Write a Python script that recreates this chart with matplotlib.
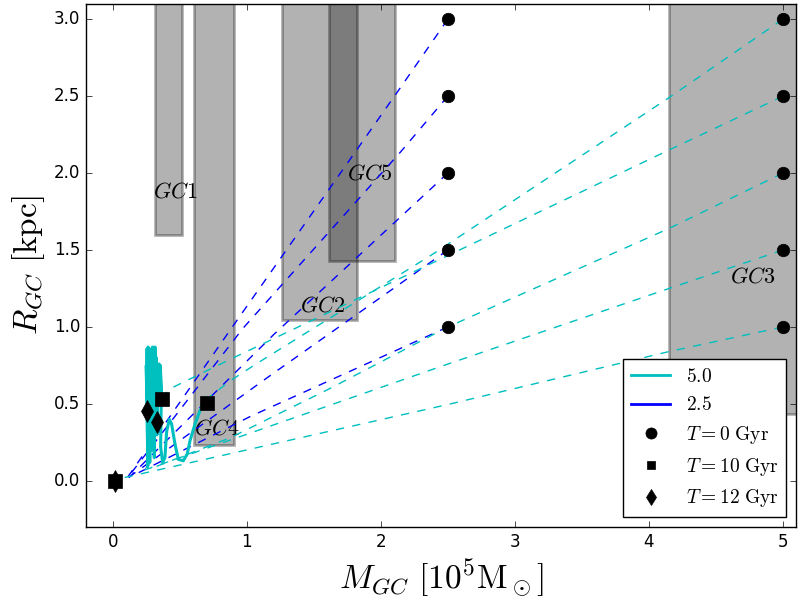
import numpy as np
import matplotlib
matplotlib.use("Agg")
from matplotlib import pyplot as plt
from matplotlib.patches import Rectangle
from matplotlib.lines import Line2D

plt.style.use("classic")
plt.rcParams["mathtext.fontset"] = "cm"

# initial galactocentric radii (kpc) of the runs, T = 0
r_init = [1.0, 1.5, 2.0, 2.5, 3.0]
m_init_low = 2.5
m_init_high = 5.0

# dashed tracks, M0 = 2.5 (blue): mass, radius
tracks_25_m = [
    [2.5, 1.03, 0.14],
    [2.5, 1.20, 0.13],
    [2.5, 1.20, 0.12],
    [2.5, 2.15, 0.97, 0.11],
    [2.5, 2.15, 0.90, 0.10],
]
tracks_25_r = [
    [1.0, 0.42, 0.03],
    [1.5, 0.70, 0.03],
    [2.0, 0.95, 0.02],
    [2.5, 2.14, 0.99, 0.02],
    [3.0, 2.56, 1.01, 0.01],
]

# dashed tracks, M0 = 5.0 (cyan)
tracks_50_m = [
    [5.0, 4.15, 2.52, 0.08],
    [5.0, 4.15, 2.47, 0.22],
    [5.0, 4.15, 2.5, 1.62, 0.876, 0.30],
    [5.0, 4.15, 2.37, 1.07, 0.876, 0.43, 0.37],
    [5.0, 4.15, 2.4, 1.07, 0.876, 0.70],
]
tracks_50_r = [
    [1.0, 0.84, 0.50, 0.02],
    [1.5, 1.25, 0.75, 0.065],
    [2.0, 1.64, 1.0, 0.60, 0.28, 0.085],
    [2.5, 2.15, 1.41, 0.87, 0.79, 0.60, 0.55],
    [3.0, 2.49, 1.48, 0.76, 0.65, 0.53],
]

# solid track after T = 10 Gyr (M0 = 5.0, R0 = 3.0)
late_m = [0.70, 0.65, 0.614, 0.576, 0.556, 0.526, 0.489, 0.464, 0.439, 0.422,
          0.402, 0.389, 0.372, 0.357, 0.362, 0.355, 0.360, 0.350, 0.356, 0.346,
          0.340, 0.335, 0.330, 0.325, 0.320, 0.315, 0.310, 0.305, 0.300, 0.296,
          0.292, 0.288, 0.284, 0.280, 0.276, 0.272, 0.268, 0.264, 0.260, 0.256,
          0.253, 0.250, 0.262, 0.258]
late_r = [0.54, 0.455, 0.37, 0.26, 0.175, 0.13, 0.14, 0.24, 0.37, 0.40,
          0.32, 0.15, 0.12, 0.22, 0.55, 0.75, 0.56, 0.74, 0.55, 0.76,
          0.56, 0.75, 0.30, 0.80, 0.55, 0.87, 0.15, 0.86, 0.55, 0.87,
          0.20, 0.70, 0.55, 0.78, 0.12, 0.86, 0.55, 0.87, 0.10, 0.86,
          0.55, 0.75, 0.10, 0.09]

# markers
t10_m = [0.015, 0.364, 0.70]
t10_r = [0.0, 0.53, 0.505]
t12_m = [0.015, 0.257, 0.33]
t12_r = [0.0, 0.455, 0.385]

# observed GCs: mass range, lower radius
gc_names = ["GC1", "GC2", "GC3", "GC4", "GC5"]
gc_m_lo = [0.314, 1.263, 4.149, 0.606, 1.614]
gc_m_hi = [0.52, 1.824, 5.6, 0.908, 2.103]
gc_r_lo = [1.60, 1.047, 0.436, 0.234, 1.427]
gc_label_m = [0.465, 1.57, 4.775, 0.776, 1.92]
gc_label_r = [1.88, 1.14, 1.33, 0.34, 2.0]

fig = plt.figure(figsize=(8, 6), dpi=100, facecolor="w")
ax = fig.add_axes([0.1075, 0.1217, 0.8875, 0.8716])

for lo, hi, rl in zip(gc_m_lo, gc_m_hi, gc_r_lo):
    ax.add_patch(Rectangle((lo, rl), hi - lo, 10.0, facecolor="k",
                           edgecolor="k", alpha=0.3, lw=2, zorder=1))
for name, xm, yr in zip(gc_names, gc_label_m, gc_label_r):
    ax.text(xm, yr, "$%s$" % name, fontsize=16, ha="center", va="center", zorder=2)

for m, r in zip(tracks_25_m, tracks_25_r):
    ax.plot(m, r, "b--", lw=1, zorder=3)
for m, r in zip(tracks_50_m, tracks_50_r):
    ax.plot(m, r, "c--", lw=1, zorder=3)
ax.plot(late_m, late_r, "c-", lw=2.2, zorder=4)

ax.plot([m_init_low] * len(r_init), r_init, "ko", ms=9, zorder=5)
ax.plot([m_init_high] * len(r_init), r_init, "ko", ms=9, zorder=5)
ax.plot(t12_m, t12_r, "kd", ms=11, zorder=5)
ax.plot(t10_m, t10_r, "ks", ms=10, zorder=6)

ax.set_xlim(-0.2, 5.1)
ax.set_ylim(-0.3, 3.1)
ax.set_xticks([0, 1, 2, 3, 4, 5])
ax.set_yticks(np.arange(0, 3.01, 0.5))
ax.set_xlabel(r"$M_{GC}\ [10^5\mathrm{M}_\odot]$", fontsize=24)
ax.set_ylabel(r"$R_{GC}\ [\mathrm{kpc}]$", fontsize=24)

handles = [
    Line2D([], [], color="c", lw=2),
    Line2D([], [], color="b", lw=2),
    Line2D([], [], color="k", marker="o", ls="none", ms=8),
    Line2D([], [], color="k", marker="s", ls="none", ms=6),
    Line2D([], [], color="k", marker="d", ls="none", ms=8),
]
labels = [r"$5.0$", r"$2.5$", r"$T=0\ \mathrm{Gyr}$",
          r"$T=10\ \mathrm{Gyr}$", r"$T=12\ \mathrm{Gyr}$"]
ax.legend(handles, labels, loc="lower right", numpoints=1, fontsize=14)

fig.savefig("out.png", dpi=100, facecolor="w")
